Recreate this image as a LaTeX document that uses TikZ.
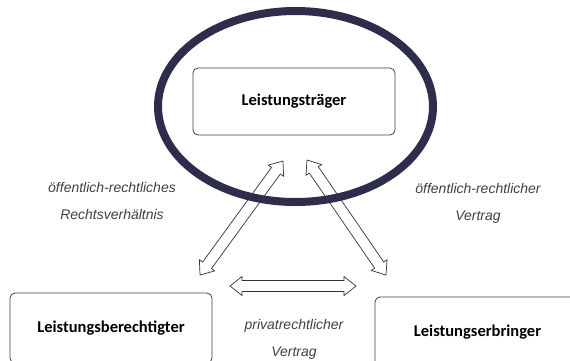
\documentclass[tikz,border=0pt]{standalone}
\usepackage{fontspec}
\setmainfont{Liberation Sans}
\newfontfamily\boxfont{Carlito}
\usetikzlibrary{positioning, calc}
\definecolor{ringcol}{RGB}{46,46,76}

\begin{document}
\begin{tikzpicture}[x=1pt, y=-1pt,
    party/.style={draw=black!75, rounded corners=5pt, line width=0.8pt,
      minimum width=202pt, minimum height=67pt,
      font=\boxfont\bfseries\fontsize{16.5}{18}\selectfont},
    rel/.style={text=black!75, align=center,
      font=\itshape\fontsize{14}{27}\selectfont},
    % hollow double-headed arrow drawn as an outline
    link/.style={draw=black!80, line width=0.7pt, fill=white, line join=miter,
      to path={
        -- ($(\tikztostart)!12pt!(\tikztotarget)!9.5pt!90:(\tikztotarget)$)
        -- ($(\tikztostart)!12pt!(\tikztotarget)!5.5pt!90:(\tikztotarget)$)
        -- ($(\tikztotarget)!12pt!(\tikztostart)!5.5pt!-90:(\tikztostart)$)
        -- ($(\tikztotarget)!12pt!(\tikztostart)!9.5pt!-90:(\tikztostart)$)
        -- (\tikztotarget)
        -- ($(\tikztotarget)!12pt!(\tikztostart)!9.5pt!90:(\tikztostart)$)
        -- ($(\tikztotarget)!12pt!(\tikztostart)!5.5pt!90:(\tikztostart)$)
        -- ($(\tikztostart)!12pt!(\tikztotarget)!5.5pt!-90:(\tikztotarget)$)
        -- ($(\tikztostart)!12pt!(\tikztotarget)!9.5pt!-90:(\tikztotarget)$)
        -- cycle}}
  ]
  \useasboundingbox (0,0) rectangle (570,360);

  % the three parties
  \node[party] (traeger) at (294,101.5) {Leistungsträger};
  \node[party, minimum height=70pt] (berechtigter) at (111,328) {Leistungsberechtigter};
  \node[party, minimum width=205pt, minimum height=70pt] (erbringer) at (477.5,332) {Leistungserbringer};

  % arrow ends
  \coordinate (lt) at (283,161);
  \coordinate (lb) at (200,275);
  \coordinate (rt) at (307,160);
  \coordinate (rb) at (386,275);
  \coordinate (hl) at (230,286);
  \coordinate (hr) at (356,286);

  \path[link] (lb) to (lt);
  \path[link] (rt) to (rb);
  \path[link] (hl) to (hr);

  % labels
  \node[rel] (oerv) at (112,201) {öffentlich-rechtliches\\Rechtsverhältnis};
  \node[rel] (oerV) at (478,203.5) {öffentlich-rechtlicher\\Vertrag};
  \node[rel] (prV) at (294,339) {privatrechtlicher\\Vertrag};

  % ring round the Leistungstraeger
  \draw[ringcol, line width=8pt] (295.5,106.5) ellipse [x radius=137.5, y radius=95.5];

\end{tikzpicture}
\end{document}
